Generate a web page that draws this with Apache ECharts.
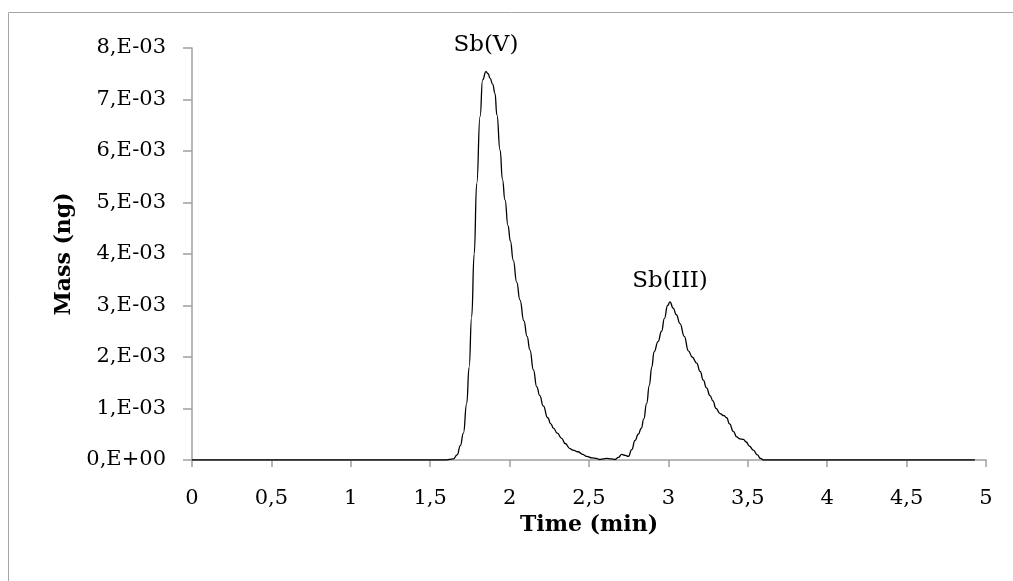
<!DOCTYPE html>
<html>
<head>
<meta charset="utf-8">
<script src="https://cdn.jsdelivr.net/npm/echarts@6/dist/echarts.min.js"></script>
<style>
  html, body { margin: 0; padding: 0; background: #fff; }
  #chart { width: 1013px; height: 581px; }
</style>
</head>
<body>
<div id="chart"></div>
<script>
// Elution time (min) and detected Sb mass (units of 1E-3 ng)
const timeMin = [
  0, 1.60, 1.645, 1.67, 1.69, 1.709, 1.73, 1.745, 1.761, 1.777, 1.793, 1.814, 1.830, 1.851, 1.865,
  1.877, 1.893, 1.908, 1.92, 1.94, 1.955, 1.971, 1.99, 2.005, 2.023, 2.045, 2.065, 2.09, 2.11,
  2.128, 2.15, 2.171, 2.19, 2.212, 2.24, 2.26, 2.276, 2.30, 2.328, 2.35, 2.38, 2.40, 2.43, 2.46,
  2.485, 2.52, 2.545, 2.569, 2.59, 2.611, 2.64, 2.664, 2.685, 2.706, 2.728, 2.748, 2.769, 2.79,
  2.81, 2.83, 2.845, 2.863, 2.88, 2.895, 2.91, 2.935, 2.957, 2.975, 2.995, 3.01, 3.03, 3.05,
  3.073, 3.10, 3.126, 3.15, 3.178, 3.20, 3.22, 3.24, 3.262, 3.28, 3.30, 3.325, 3.35, 3.367,
  3.385, 3.41, 3.43, 3.45, 3.472, 3.49, 3.51, 3.535, 3.56, 3.58, 3.60, 4.93
];
const massE3 = [
  0, 0, 0.02, 0.1, 0.28, 0.52, 1.1, 1.8, 2.78, 4.0, 5.37, 6.67, 7.38, 7.54, 7.50,
  7.41, 7.30, 7.12, 6.7, 6.02, 5.45, 5.05, 4.55, 4.25, 3.88, 3.45, 3.11, 2.7, 2.4,
  2.14, 1.75, 1.42, 1.25, 1.05, 0.82, 0.7, 0.62, 0.52, 0.42, 0.32, 0.22, 0.19, 0.16, 0.11,
  0.07, 0.04, 0.03, 0.01, 0.02, 0.03, 0.02, 0.01, 0.05, 0.11, 0.09, 0.07, 0.2, 0.38,
  0.5, 0.62, 0.8, 1.1, 1.45, 1.8, 2.1, 2.3, 2.5, 2.75, 3.0, 3.07, 2.95, 2.82,
  2.65, 2.4, 2.12, 2.0, 1.88, 1.72, 1.55, 1.4, 1.25, 1.15, 1.0, 0.9, 0.86, 0.82,
  0.7, 0.55, 0.45, 0.41, 0.40, 0.35, 0.27, 0.19, 0.1, 0.03, 0, 0
];
// Peak annotations: species name and the index of its apex
const peakNames = ['Sb(V)', 'Sb(III)'];
const peakIndex = [13, 69];

const xTickLabels = ['0', '0,5', '1', '1,5', '2', '2,5', '3', '3,5', '4', '4,5', '5'];
const yTickLabels = ['0,E+00', '1,E-03', '2,E-03', '3,E-03', '4,E-03', '5,E-03', '6,E-03', '7,E-03', '8,E-03'];

const seriesData = timeMin.map((t, i) => [t, massE3[i] / 1000]);

const FONT = '"DejaVu Serif", "Liberation Serif", serif';
const AXIS_GREY = '#a0a0a0';

const chart = echarts.init(document.getElementById('chart'), null, { renderer: 'canvas' });
chart.setOption({
  backgroundColor: '#fff',
  animation: false,
  graphic: [{
    type: 'rect',
    shape: { x: 8.5, y: 12.5, width: 1100, height: 700 },
    style: { fill: 'none', stroke: '#a6a6a6', lineWidth: 1 },
    silent: true
  }],
  grid: { left: 192, right: 27, top: 48, bottom: 121 },
  xAxis: {
    type: 'value',
    min: 0, max: 5, interval: 0.5,
    name: 'Time (min)',
    nameLocation: 'middle',
    nameGap: 50,
    nameTextStyle: { fontFamily: FONT, fontWeight: 'bold', fontSize: 22, color: '#000' },
    axisLine: { show: true, lineStyle: { color: AXIS_GREY, width: 1.5 } },
    axisTick: { show: true, length: 7, lineStyle: { color: AXIS_GREY, width: 1.5 } },
    axisLabel: {
      fontFamily: FONT, fontSize: 21, color: '#000', margin: 28,
      formatter: (v) => xTickLabels[Math.round(v / 0.5)]
    },
    splitLine: { show: false }
  },
  yAxis: {
    type: 'value',
    min: 0, max: 0.008, interval: 0.001,
    name: 'Mass (ng)',
    nameLocation: 'middle',
    nameRotate: 90,
    nameGap: 114,
    nameTextStyle: { fontFamily: FONT, fontWeight: 'bold', fontSize: 22, color: '#000' },
    axisLine: { show: true, lineStyle: { color: AXIS_GREY, width: 1.5 } },
    axisTick: { show: true, length: 9, lineStyle: { color: AXIS_GREY, width: 1.5 } },
    axisLabel: {
      fontFamily: FONT, fontSize: 21, color: '#000', margin: 26,
      formatter: (v) => yTickLabels[Math.round(v * 1000)]
    },
    splitLine: { show: false }
  },
  series: [{
    type: 'line',
    data: seriesData,
    showSymbol: false,
    smooth: 0.5,
    smoothMonotone: 'x',
    lineStyle: { color: '#000', width: 1.3 },
    z: 5,
    markPoint: {
      symbol: 'circle',
      symbolSize: 0,
      silent: true,
      label: {
        show: true,
        position: 'top',
        fontFamily: FONT,
        fontSize: 23,
        color: '#000',
        formatter: (p) => p.name
      },
      data: peakNames.map((name, k) => ({
        name: name,
        coord: seriesData[peakIndex[k]],
        label: { distance: k === 0 ? 15 : 9 }
      }))
    }
  }]
});
</script>
</body>
</html>
